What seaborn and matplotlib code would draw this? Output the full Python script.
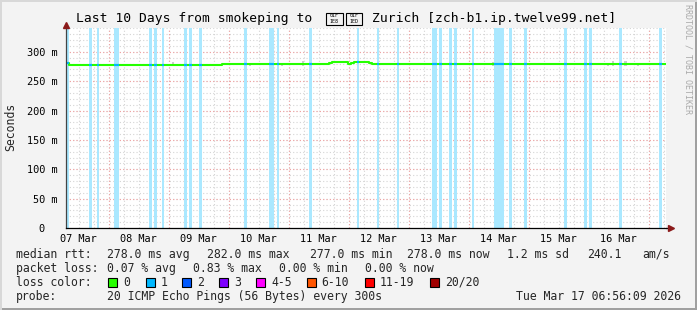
import numpy as np
import pandas as pd
import matplotlib
matplotlib.use("Agg")
import matplotlib.pyplot as plt
import matplotlib.dates as mdates
from matplotlib.ticker import MultipleLocator, FuncFormatter
from matplotlib.patches import Rectangle
import seaborn as sns

# ---------------- data ----------------
end_time = "2026-03-17 06:56:09"
span_days = 10

rtt_times = ["2026-03-07 06:56", "2026-03-07 08:00", "2026-03-09 21:30",
             "2026-03-11 16:15", "2026-03-11 17:30", "2026-03-11 23:55",
             "2026-03-12 01:05", "2026-03-12 02:15", "2026-03-12 08:15",
             "2026-03-12 09:30", "2026-03-17 06:56"]
rtt_ms = [281.0, 277.4, 278.9, 280.7, 282.5, 279.0, 280.7, 282.5, 280.7,
          278.9, 278.9]

loss_start = ["2026-03-07 06:56", "2026-03-07 16:15", "2026-03-07 19:20",
              "2026-03-08 02:15", "2026-03-08 16:15", "2026-03-08 18:15",
              "2026-03-08 21:30", "2026-03-09 06:15", "2026-03-09 08:15",
              "2026-03-09 12:15", "2026-03-10 06:15", "2026-03-10 16:15",
              "2026-03-10 19:30", "2026-03-11 08:15", "2026-03-12 03:30",
              "2026-03-12 11:30", "2026-03-12 19:30", "2026-03-13 09:30",
              "2026-03-13 12:15", "2026-03-13 16:15", "2026-03-13 18:15",
              "2026-03-14 01:30", "2026-03-14 10:15", "2026-03-14 16:15",
              "2026-03-14 22:15", "2026-03-15 14:15", "2026-03-15 22:15",
              "2026-03-16 00:15", "2026-03-16 12:15", "2026-03-17 04:15"]
loss_end = ["2026-03-07 08:00", "2026-03-07 17:30", "2026-03-07 20:15",
            "2026-03-08 04:15", "2026-03-08 17:30", "2026-03-08 19:30",
            "2026-03-08 22:15", "2026-03-09 07:30", "2026-03-09 09:30",
            "2026-03-09 13:30", "2026-03-10 07:30", "2026-03-10 18:15",
            "2026-03-10 20:15", "2026-03-11 09:30", "2026-03-12 04:15",
            "2026-03-12 12:15", "2026-03-12 20:15", "2026-03-13 11:30",
            "2026-03-13 13:30", "2026-03-13 17:30", "2026-03-13 19:30",
            "2026-03-14 02:15", "2026-03-14 14:15", "2026-03-14 17:30",
            "2026-03-14 23:30", "2026-03-15 15:30", "2026-03-15 23:30",
            "2026-03-16 01:30", "2026-03-16 13:30", "2026-03-17 05:30"]
loss_pings = [1, 1, 1, 1, 1, 1, 1, 1, 1, 1, 1, 1, 1, 1, 1,
              1, 1, 1, 1, 1, 1, 1, 1, 1, 1, 1, 1, 1, 1, 1]

smoke_times = ["2026-03-09 01:40", "2026-03-10 08:30", "2026-03-10 21:20",
               "2026-03-11 05:45", "2026-03-14 09:45", "2026-03-16 07:45",
               "2026-03-16 09:45", "2026-03-16 14:45", "2026-03-16 19:45"]
smoke_top_ms = [282.0, 281.0, 281.0, 285.0, 283.0, 281.0, 285.0, 284.0, 281.0]

day_labels_fmt = "%d %b"
loss_levels = ["0", "1", "2", "3", "4-5", "6-10", "11-19", "20/20"]
loss_colors = ["#26ff00", "#00b8ff", "#0059ff", "#7e00ff", "#ff00ff",
               "#ff5500", "#ff0000", "#a10000"]
loss_bg_colors = {1: "#aae8ff"}

title_left = "Last 10 Days from smokeping to"
title_flag_codes = [("01F", "1E8"), ("01F", "1ED")]   # U+1F1E8 U+1F1ED (no font has them)
title_right = "Zurich [zch-b1.ip.twelve99.net]"

# ---------------- style ----------------
sns.set_theme(style="white")
plt.rcParams["font.family"] = ["DejaVu Sans Mono", "DejaVu Sans"]

W, H = 697, 310
BG = "#f3f3f3"
fig = plt.figure(figsize=(W / 100, H / 100), dpi=100, facecolor=BG)

def fx(x):
    return x / W

def fy(y):
    return 1 - y / H

L, R, T, B = 66, 666, 27.5, 228
ax = fig.add_axes([fx(L), fy(B), (R - L) / W, (B - T) / H])
ax.set_facecolor("white")

t_end = pd.Timestamp(end_time)
t_start = t_end - pd.Timedelta(days=span_days)
ax.set_xlim(t_start, t_end)
ax.set_ylim(0, 341.5)

# grid
minor_c = "#d4d4d4"
major_c = "#f2a2a2"
dot = (0, (1, 2))
for h in pd.date_range(t_start.ceil("6h"), t_end, freq="6h"):
    ax.axvline(h, color=minor_c, lw=0.8, ls=dot, zorder=0.5)
for v in np.arange(10, 341, 10):
    ax.axhline(v, color=minor_c, lw=0.8, ls=dot, zorder=0.5)
for v in np.arange(50, 341, 50):
    ax.axhline(v, color=major_c, lw=0.8, ls=dot, zorder=0.6)
for d in pd.date_range(t_start.ceil("1D"), t_end, freq="1D"):
    ax.axvline(d, color=major_c, lw=0.8, ls=dot, zorder=0.6)

# loss bars
for s, e, n in zip(loss_start, loss_end, loss_pings):
    ax.axvspan(pd.Timestamp(s), pd.Timestamp(e), color=loss_bg_colors[n],
               lw=0, zorder=1)

# smoke
st = pd.to_datetime(smoke_times)
ax.bar(st, np.array(smoke_top_ms) - 276.0, bottom=276.0,
       width=pd.Timedelta(minutes=55), color="#cccccc", lw=0, zorder=1.5)

# median line
df = pd.DataFrame({"time": pd.to_datetime(rtt_times), "rtt": rtt_ms})
sns.lineplot(data=df, x="time", y="rtt", drawstyle="steps-post",
             color=loss_colors[0], lw=1.5, estimator=None, ax=ax, zorder=3)

# colour line by loss in loss intervals
times_num = mdates.date2num(df["time"])
for s, e, n in zip(loss_start, loss_end, loss_pings):
    s_num = mdates.date2num(pd.Timestamp(s))
    idx = max(np.searchsorted(times_num, s_num, side="right") - 1, 0)
    ax.hlines(df["rtt"].iloc[idx], pd.Timestamp(s), pd.Timestamp(e),
              color=loss_colors[n], lw=1.5, zorder=3.5)

ax.set_xlabel("")
ax.set_ylabel("")

# ticks
ax.xaxis.set_major_locator(mdates.HourLocator(byhour=[12]))
ax.xaxis.set_major_formatter(mdates.DateFormatter(day_labels_fmt))
ax.yaxis.set_major_locator(MultipleLocator(50))
ax.yaxis.set_major_formatter(FuncFormatter(lambda v, p: f"{v:.0f} m" if v > 0 else "0  "))
ax.tick_params(axis="x", length=0, pad=4.5, labelsize=7.4, colors="#000000")
ax.tick_params(axis="y", length=2, width=0.8, pad=4.2, labelsize=7.4,
               direction="out", color="#555555", labelcolor="#000000")
for sp in ["top", "right"]:
    ax.spines[sp].set_visible(False)
ax.spines["left"].set_color("#444444")
ax.spines["left"].set_linewidth(0.9)
ax.spines["bottom"].set_color("#000000")
ax.spines["bottom"].set_linewidth(0.9)
ax.spines["left"].set_zorder(4)
ax.spines["bottom"].set_zorder(4)

# arrows
ax.plot([0], [1.0 + 3 / (B - T)], marker="^", ms=5, color="#8b1a1a",
        transform=ax.transAxes, clip_on=False, zorder=5)
ax.plot([0, 0], [1.0, 1.0 + 3 / (B - T)], color="#444444", lw=0.9,
        transform=ax.transAxes, clip_on=False, zorder=4)
ax.plot([1.0, 1.0 + 3 / (R - L)], [0, 0], color="#000000", lw=0.9,
        transform=ax.transAxes, clip_on=False, zorder=4)
ax.plot([1.0 + 4.5 / (R - L)], [0], marker=">", ms=5, color="#8b1a1a",
        transform=ax.transAxes, clip_on=False, zorder=5)

# ---------------- texts ----------------
fig.text(fx(75.6), fy(18.5), title_left, ha="left", va="center", fontsize=9.4,
         color="#000000")
fig.text(fx(372.4), fy(18.5), title_right, ha="left", va="center", fontsize=9.4,
         color="#000000")
# missing-glyph boxes for the flag characters, as in the reference
for bx, (top, bot) in zip([326.0, 346.0], title_flag_codes):
    fig.patches.append(Rectangle((fx(bx), fy(24.5)), 16.5 / W, 11.5 / H,
                                 transform=fig.transFigure, facecolor="none",
                                 edgecolor="#000000", lw=0.8))
    fig.text(fx(bx + 8.25), fy(15.8), top, ha="center", va="center",
             fontsize=3.6, color="#000000")
    fig.text(fx(bx + 8.25), fy(21.4), bot, ha="center", va="center",
             fontsize=3.6, color="#000000")

fig.text(fx(10.5), fy(127), "Seconds", rotation=90, ha="center", va="center",
         fontsize=8.3)
fig.text(fx(688), fy(4), "RRDTOOL / TOBI OETIKER", rotation=270, ha="center",
         va="top", fontsize=6.0, color="#aaaaaa")

fs = 8.3
rows = [
    (254.3, [(16, "median rtt:"), (107.3, "278.0 ms avg"), (207.3, "282.0 ms max"),
             (310, "277.0 ms min"), (407.3, "278.0 ms now"), (507.3, "1.2 ms sd"),
             (586.7, "240.1"), (642.7, "am/s")]),
    (268.3, [(16, "packet loss:"), (107.3, "0.07 % avg"), (193.3, "0.83 % max"),
             (279.3, "0.00 % min"), (365, "0.00 % now")]),
    (282.3, [(16, "loss color:")]),
    (296.3, [(16, "probe:"), (107.3, "20 ICMP Echo Pings (56 Bytes) every 300s")]),
]
for y, items in rows:
    for x, s in items:
        fig.text(fx(x), fy(y), s, ha="left", va="center", fontsize=fs)
fig.text(fx(680.5), fy(296.3), "Tue Mar 17 06:56:09 2026", ha="right",
         va="center", fontsize=fs)

box_x = [108.3, 145.7, 182.3, 219.3, 256, 306.7, 365, 430]
for bx, lab, col in zip(box_x, loss_levels, loss_colors):
    fig.patches.append(Rectangle((fx(bx), fy(287)), 9 / W, 9 / H,
                                 transform=fig.transFigure, facecolor=col,
                                 edgecolor="#000000", lw=0.8))
    fig.text(fx(bx + 15), fy(282.3), lab, ha="left", va="center", fontsize=fs)

# frame
fig.patches.append(Rectangle((0, 0), 1, 2 / H, transform=fig.transFigure,
                             facecolor="#a0a0a0", lw=0))
fig.patches.append(Rectangle((1 - 2 / W, 0), 2 / W, 1, transform=fig.transFigure,
                             facecolor="#a0a0a0", lw=0))
fig.patches.append(Rectangle((0, 1 - 2 / H), 1, 2 / H, transform=fig.transFigure,
                             facecolor="#d8d8d8", lw=0))
fig.patches.append(Rectangle((0, 0), 2 / W, 1, transform=fig.transFigure,
                             facecolor="#d8d8d8", lw=0))

fig.savefig("out.png", dpi=100, facecolor=BG)
